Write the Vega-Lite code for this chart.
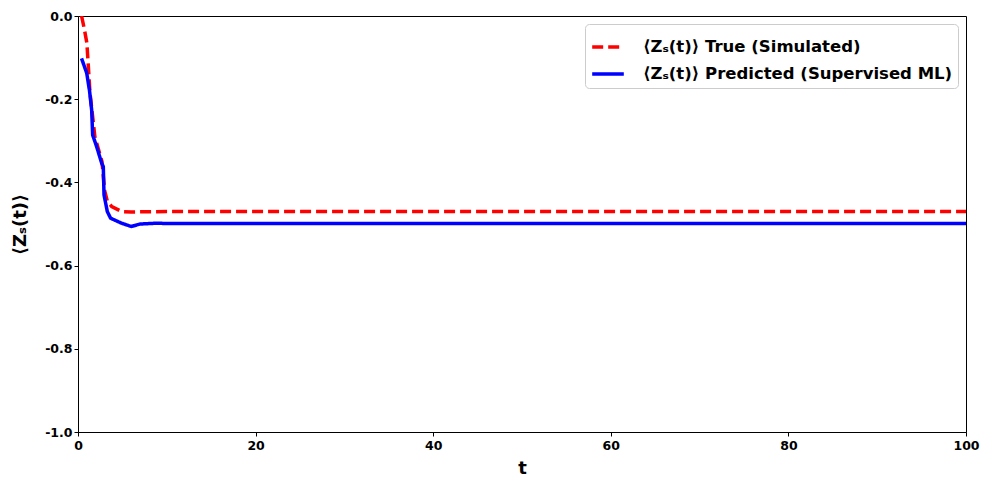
{
  "$schema": "https://vega.github.io/schema/vega-lite/v6.json",
  "width": 888,
  "height": 416,
  "autosize": {"type": "none"},
  "padding": {"left": 78, "top": 16, "right": 24, "bottom": 58},
  "background": "white",
  "config": {
    "font": "DejaVu Sans",
    "view": {"stroke": "black", "strokeWidth": 1},
    "axis": {
      "domainColor": "black", "tickColor": "black", "grid": false, "labelFlush": false,
      "labelFont": "DejaVu Sans", "labelFontWeight": "bold", "labelFontSize": 12.5, "labelColor": "black",
      "titleFont": "DejaVu Sans", "titleFontWeight": "bold", "titleFontSize": 18, "titleColor": "black",
      "tickSize": 4
    }
  },
  "data": {"values": [
    {"t": 0.4, "z": 0.0, "series": "True"},
    {"t": 0.7, "z": -0.03, "series": "True"},
    {"t": 1.0, "z": -0.065, "series": "True"},
    {"t": 1.35, "z": -0.185, "series": "True"},
    {"t": 1.9, "z": -0.29, "series": "True"},
    {"t": 2.3, "z": -0.32, "series": "True"},
    {"t": 2.7, "z": -0.35, "series": "True"},
    {"t": 3.0, "z": -0.42, "series": "True"},
    {"t": 3.3, "z": -0.445, "series": "True"},
    {"t": 3.8, "z": -0.458, "series": "True"},
    {"t": 4.9, "z": -0.47, "series": "True"},
    {"t": 6.0, "z": -0.471, "series": "True"},
    {"t": 10, "z": -0.47, "series": "True"},
    {"t": 20, "z": -0.47, "series": "True"},
    {"t": 30, "z": -0.47, "series": "True"},
    {"t": 40, "z": -0.47, "series": "True"},
    {"t": 50, "z": -0.47, "series": "True"},
    {"t": 60, "z": -0.47, "series": "True"},
    {"t": 70, "z": -0.47, "series": "True"},
    {"t": 80, "z": -0.47, "series": "True"},
    {"t": 90, "z": -0.47, "series": "True"},
    {"t": 100, "z": -0.47, "series": "True"},
    {"t": 0.4, "z": -0.102, "series": "Pred"},
    {"t": 0.98, "z": -0.137, "series": "Pred"},
    {"t": 1.3, "z": -0.18, "series": "Pred"},
    {"t": 1.54, "z": -0.226, "series": "Pred"},
    {"t": 1.65, "z": -0.286, "series": "Pred"},
    {"t": 2.1, "z": -0.314, "series": "Pred"},
    {"t": 2.67, "z": -0.354, "series": "Pred"},
    {"t": 2.85, "z": -0.362, "series": "Pred"},
    {"t": 2.93, "z": -0.43, "series": "Pred"},
    {"t": 3.3, "z": -0.47, "series": "Pred"},
    {"t": 3.67, "z": -0.486, "series": "Pred"},
    {"t": 4.9, "z": -0.498, "series": "Pred"},
    {"t": 6.0, "z": -0.506, "series": "Pred"},
    {"t": 7.0, "z": -0.5, "series": "Pred"},
    {"t": 9.0, "z": -0.498, "series": "Pred"},
    {"t": 10, "z": -0.499, "series": "Pred"},
    {"t": 20, "z": -0.499, "series": "Pred"},
    {"t": 30, "z": -0.499, "series": "Pred"},
    {"t": 40, "z": -0.499, "series": "Pred"},
    {"t": 50, "z": -0.499, "series": "Pred"},
    {"t": 60, "z": -0.499, "series": "Pred"},
    {"t": 70, "z": -0.499, "series": "Pred"},
    {"t": 80, "z": -0.499, "series": "Pred"},
    {"t": 90, "z": -0.499, "series": "Pred"},
    {"t": 100, "z": -0.499, "series": "Pred"}
  ]},
  "mark": {"type": "line", "strokeWidth": 3.5, "clip": true},
  "encoding": {
    "x": {"field": "t", "type": "quantitative", "scale": {"domain": [0, 100], "nice": false}, "axis": {"values": [0, 20, 40, 60, 80, 100], "title": "t", "labelPadding": 3, "titlePadding": 8}},
    "y": {"field": "z", "type": "quantitative", "scale": {"domain": [-1, 0], "nice": false, "zero": false}, "axis": {"values": [-1, -0.8, -0.6, -0.4, -0.2, 0], "labelExpr": "replace(format(datum.value, '.1f'), '\u2212', '-')", "title": "⟨Zₛ(t)⟩", "titlePadding": 15}},
    "color": {"field": "series", "type": "nominal", "scale": {"domain": ["True", "Pred"], "range": ["#ff0000", "#0000ff"]},
      "legend": {"title": null, "orient": "top-right", "offset": 8, "symbolType": "stroke", "symbolSize": 1000, "symbolStrokeWidth": 3.5,
        "labelExpr": "datum.value == 'True' ? '⟨Zₛ(t)⟩ True (Simulated)' : '⟨Zₛ(t)⟩ Predicted (Supervised ML)'",
        "labelFont": "DejaVu Sans", "labelFontWeight": "bold", "labelFontSize": 16.5, "labelColor": "black", "labelLimit": 500,
        "fillColor": "white", "strokeColor": "#cccccc", "cornerRadius": 4, "padding": 5, "rowPadding": -3, "labelOffset": 17}},
    "strokeDash": {"field": "series", "type": "nominal", "scale": {"domain": ["True", "Pred"], "range": [[11, 5], [1, 0]]}, "legend": null},
    "detail": {"field": "series"}
  }
}
